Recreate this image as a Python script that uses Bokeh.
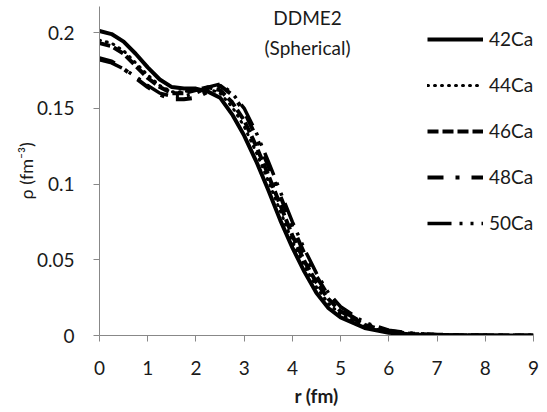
from bokeh.plotting import figure
from bokeh.models import Range1d, Legend, LegendItem, Label, FixedTicker
from bokeh.embed import file_html
from bokeh.resources import INLINE

r = [0, 0.25, 0.5, 0.75, 1.0, 1.25, 1.5, 1.75, 2.0, 2.25, 2.5, 2.75, 3.0, 3.25, 3.5,
     3.75, 4.0, 4.25, 4.5, 4.75, 5.0, 5.5, 6.0, 6.5, 7.0, 7.5, 8.0, 8.5, 9.0]

ca42 = [0.201, 0.199, 0.194, 0.186, 0.177, 0.169, 0.164, 0.163, 0.163, 0.161, 0.157, 0.146, 0.132, 0.115, 0.096,
        0.076, 0.058, 0.042, 0.028, 0.018, 0.012, 0.005, 0.0018, 0.0006, 0.0002, 0.0001, 0.0, 0.0, 0.0]
ca44 = [0.195, 0.193, 0.188, 0.180, 0.172, 0.165, 0.161, 0.161, 0.162, 0.163, 0.160, 0.151, 0.138, 0.121, 0.102,
        0.082, 0.062, 0.046, 0.032, 0.021, 0.014, 0.006, 0.0022, 0.0008, 0.0003, 0.0001, 0.0, 0.0, 0.0]
ca46 = [0.193, 0.191, 0.186, 0.178, 0.170, 0.164, 0.160, 0.160, 0.162, 0.164, 0.162, 0.154, 0.142, 0.125, 0.106,
        0.086, 0.066, 0.049, 0.035, 0.024, 0.016, 0.007, 0.0027, 0.001, 0.0004, 0.0001, 0.0, 0.0, 0.0]
ca48 = [0.183, 0.181, 0.176, 0.170, 0.164, 0.159, 0.156, 0.156, 0.157, 0.161, 0.165, 0.159, 0.148, 0.131, 0.112,
        0.092, 0.072, 0.054, 0.039, 0.026, 0.017, 0.0075, 0.003, 0.0012, 0.0005, 0.0002, 0.0001, 0.0, 0.0]
ca50 = [0.182, 0.180, 0.176, 0.171, 0.165, 0.160, 0.158, 0.158, 0.160, 0.164, 0.166, 0.160, 0.150, 0.134, 0.115,
        0.095, 0.075, 0.057, 0.041, 0.028, 0.019, 0.0085, 0.0035, 0.0014, 0.0005, 0.0002, 0.0001, 0.0, 0.0]

names = ["42Ca", "44Ca", "46Ca", "48Ca", "50Ca"]
series = [ca42, ca44, ca46, ca48, ca50]
dashes = ["solid", "1 6", "11 4", "16 12 4 12", "24 8 3 8 3 8"]
widths = [4, 3, 4, 4, 3.5]
caps = ["butt", "round", "butt", "butt", "butt"]

x_ticks = [0, 1, 2, 3, 4, 5, 6, 7, 8, 9]
y_ticks = [0, 0.05, 0.1, 0.15, 0.2]

FONT = "Lato"
TXT = "#1a1a1a"

p = figure(width=547, height=412, output_backend="svg", toolbar_location=None,
           x_range=Range1d(0, 9), y_range=Range1d(0, 0.2172),
           min_border_left=99, min_border_right=14, min_border_top=6, min_border_bottom=77)
p.outline_line_color = None
p.grid.grid_line_color = None
p.background_fill_color = "white"

items = []
for name, ys, d, w, c in zip(names, series, dashes, widths, caps):
    rr = p.line(r, ys, line_color="black", line_width=w, line_dash=d, line_cap=c)
    items.append(LegendItem(label=name, renderers=[rr]))

leg = Legend(items=items, location=(328, 101), padding=0, margin=0, spacing=23,
             glyph_width=56, glyph_height=20, label_height=20, label_standoff=6,
             label_text_font=FONT, label_text_font_size="19px", label_text_color=TXT,
             border_line_color=None, background_fill_alpha=0)
p.add_layout(leg, "center")

for ax in (p.xaxis[0], p.yaxis[0]):
    ax.axis_line_color = "#888888"
    ax.major_tick_line_color = "#888888"
    ax.minor_tick_line_color = None
    ax.major_tick_in = 0
    ax.major_tick_out = 6
    ax.major_label_text_font = FONT
    ax.major_label_text_font_size = "19px"
    ax.major_label_text_color = TXT
    ax.axis_label_text_font = FONT
    ax.axis_label_text_color = TXT

p.xaxis.ticker = FixedTicker(ticks=x_ticks)
p.yaxis.ticker = FixedTicker(ticks=y_ticks)
p.yaxis.major_label_overrides = {0: "0", 0.05: "0.05", 0.1: "0.1", 0.15: "0.15", 0.2: "0.2"}
p.xaxis.major_label_standoff = 19
p.yaxis.major_label_standoff = 19
p.xaxis.axis_label = "r (fm)"
p.xaxis.axis_label_text_font_style = "bold"
p.xaxis.axis_label_text_font_size = "19px"
p.xaxis.axis_label_standoff = 6
p.yaxis.axis_label = "ρ (fm⁻³)"
p.yaxis.axis_label_text_font_style = "normal"
p.yaxis.axis_label_text_font_size = "18px"
p.yaxis.axis_label_standoff = -3

p.add_layout(Label(x=208, y=318, x_units="screen", y_units="screen", text="DDME2",
                   text_align="center", text_baseline="middle", text_font=FONT,
                   text_font_size="19px", text_color=TXT))
p.add_layout(Label(x=208, y=288, x_units="screen", y_units="screen", text="(Spherical)",
                   text_align="center", text_baseline="middle", text_font=FONT,
                   text_font_size="19px", text_color=TXT))

open("out.html", "w").write(file_html(p, INLINE))
